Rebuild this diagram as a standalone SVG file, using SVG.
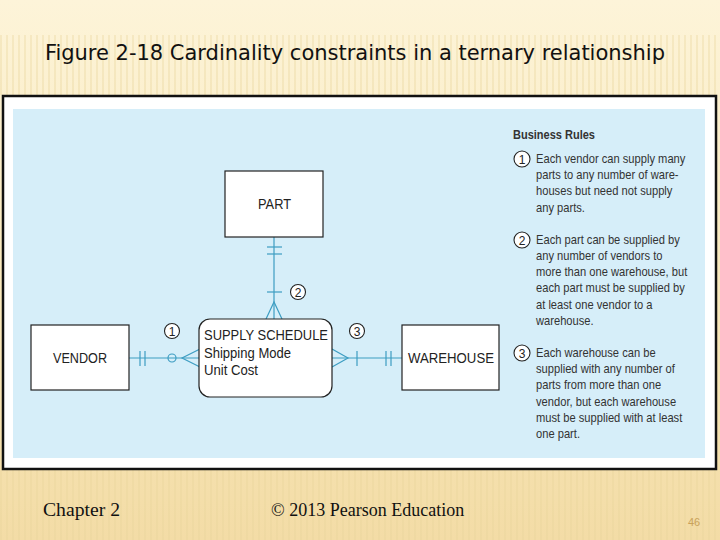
<svg xmlns="http://www.w3.org/2000/svg" width="720" height="540" viewBox="0 0 720 540">
<defs>
<linearGradient id="bg" x1="0" y1="0" x2="0" y2="1">
<stop offset="0" stop-color="#fdf4d9"/>
<stop offset="0.5" stop-color="#f9e9bd"/>
<stop offset="1" stop-color="#f3dca6"/>
</linearGradient>
<pattern id="stripes" width="6" height="540" patternUnits="userSpaceOnUse">
<rect x="0" y="0" width="2" height="540" fill="#e8d29a" opacity="0.35"/>
</pattern>
<style>
.ent{fill:#ffffff;stroke:#222;stroke-width:1.2}
.lbl{font-family:"Liberation Sans",Arial,sans-serif;font-size:14px;fill:#222}
.con{stroke:#3d9dc2;stroke-width:1.2;fill:none}
.num{fill:#fff;stroke:#222;stroke-width:1.1}
.numt{font-family:"Liberation Sans",Arial,sans-serif;font-size:12px;fill:#222;text-anchor:middle}
.rule{font-family:"Liberation Sans",Arial,sans-serif;font-size:12px;fill:#333}
.foot{font-family:"Liberation Serif","Times New Roman",serif;font-size:18px;fill:#111}
</style>
</defs>
<rect width="720" height="540" fill="url(#bg)"/>
<rect x="0" y="35" width="720" height="60" fill="url(#stripes)"/>
<rect x="0" y="470" width="720" height="70" fill="url(#stripes)"/>
<text x="355" y="60" text-anchor="middle" font-family="DejaVu Sans Condensed, DejaVu Sans, sans-serif" font-size="22" fill="#111" textLength="620" lengthAdjust="spacingAndGlyphs">Figure 2-18 Cardinality constraints in a ternary relationship</text>

<rect x="3" y="96" width="713" height="373" fill="#ffffff" stroke="#111" stroke-width="2.5"/>
<rect x="13" y="109" width="692" height="349" fill="#d6eef9"/>

<g id="connectors">
<line class="con" x1="274" y1="237" x2="274" y2="319"/>
<line class="con" x1="267" y1="247" x2="282" y2="247"/>
<line class="con" x1="267" y1="254" x2="282" y2="254"/>
<line class="con" x1="267" y1="292" x2="282" y2="292"/>
<path class="con" d="M266 319 L274 302 L282 319"/>
<line class="con" x1="129" y1="358" x2="199" y2="358"/>
<line class="con" x1="140" y1="351" x2="140" y2="366"/>
<line class="con" x1="145" y1="351" x2="145" y2="366"/>
<circle class="con" cx="172" cy="358" r="4" fill="#d6eef9"/>
<path class="con" d="M200 349 L182 358 L200 367"/>
<line class="con" x1="332" y1="358" x2="402" y2="358"/>
<path class="con" d="M332 349 L348 358 L332 367"/>
<line class="con" x1="357" y1="351" x2="357" y2="366"/>
<line class="con" x1="386" y1="351" x2="386" y2="366"/>
<line class="con" x1="391" y1="351" x2="391" y2="366"/>
</g>

<g id="part">
<rect class="ent" x="225" y="171" width="98" height="66"/>
<text class="lbl" x="258" y="209" textLength="33" lengthAdjust="spacingAndGlyphs">PART</text>
</g>
<g id="vendor">
<rect class="ent" x="31" y="325" width="98" height="65"/>
<text class="lbl" x="53" y="363" textLength="54" lengthAdjust="spacingAndGlyphs">VENDOR</text>
</g>
<g id="warehouse">
<rect class="ent" x="402" y="325" width="97" height="65"/>
<text class="lbl" x="408" y="363" textLength="86" lengthAdjust="spacingAndGlyphs">WAREHOUSE</text>
</g>
<g id="supply-schedule">
<rect class="ent" x="199" y="319" width="133" height="78" rx="11"/>
<text class="lbl" x="204" y="340" textLength="124" lengthAdjust="spacingAndGlyphs">SUPPLY SCHEDULE</text>
<text class="lbl" x="204" y="358" textLength="87" lengthAdjust="spacingAndGlyphs">Shipping Mode</text>
<text class="lbl" x="204" y="375" textLength="54" lengthAdjust="spacingAndGlyphs">Unit Cost</text>
</g>

<g id="markers">
<circle class="num" cx="172" cy="331" r="7.5"/><text class="numt" x="172" y="335.5">1</text>
<circle class="num" cx="298" cy="292" r="7.5"/><text class="numt" x="298" y="296.5">2</text>
<circle class="num" cx="357" cy="331" r="7.5"/><text class="numt" x="357" y="335.5">3</text>
</g>

<g id="business-rules">
<text x="513" y="139" font-family="Liberation Sans, Arial, sans-serif" font-size="12" font-weight="bold" fill="#333" textLength="82" lengthAdjust="spacingAndGlyphs">Business Rules</text>
<circle class="num" cx="522" cy="159" r="8"/><text class="numt" x="522" y="163.5">1</text>
<circle class="num" cx="522" cy="240" r="8"/><text class="numt" x="522" y="244.5">2</text>
<circle class="num" cx="522" cy="353" r="8"/><text class="numt" x="522" y="357.5">3</text>
<g transform="translate(536,0) scale(0.93,1) translate(-536,0)">
<text class="rule" x="536" y="163">Each vendor can supply many</text>
<text class="rule" x="536" y="179">parts to any number of ware-</text>
<text class="rule" x="536" y="195">houses but need not supply</text>
<text class="rule" x="536" y="212">any parts.</text>
<text class="rule" x="536" y="244">Each part can be supplied by</text>
<text class="rule" x="536" y="260">any number of vendors to</text>
<text class="rule" x="536" y="276">more than one warehouse, but</text>
<text class="rule" x="536" y="292">each part must be supplied by</text>
<text class="rule" x="536" y="309">at least one vendor to a</text>
<text class="rule" x="536" y="325">warehouse.</text>
<text class="rule" x="536" y="357">Each warehouse can be</text>
<text class="rule" x="536" y="373">supplied with any number of</text>
<text class="rule" x="536" y="389">parts from more than one</text>
<text class="rule" x="536" y="406">vendor, but each warehouse</text>
<text class="rule" x="536" y="422">must be supplied with at least</text>
<text class="rule" x="536" y="438">one part.</text>
</g>
</g>

<text class="foot" x="43" y="516" textLength="77" lengthAdjust="spacingAndGlyphs">Chapter 2</text>
<text class="foot" x="271" y="516">© 2013 Pearson Education</text>
<text x="688" y="526" font-family="Liberation Sans, Arial, sans-serif" font-size="11" fill="#c9a25a">46</text>
</svg>
